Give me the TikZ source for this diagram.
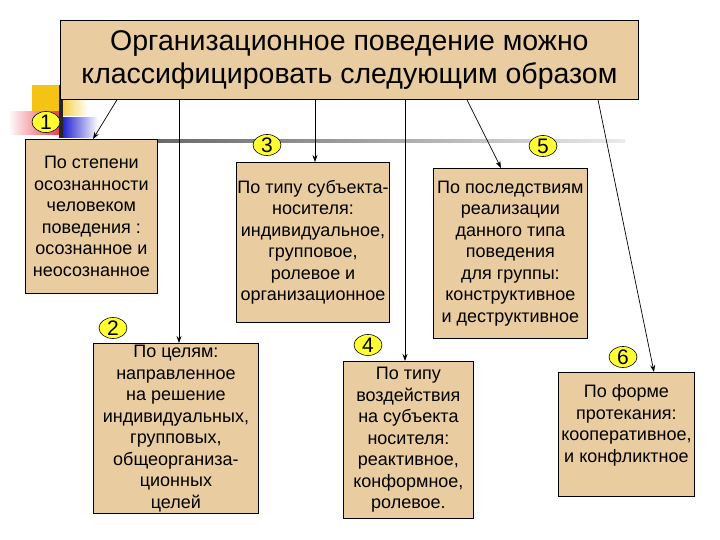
\documentclass[tikz,border=0pt]{standalone}
\usepackage{fontspec}
\setmainfont{Liberation Sans}
\usetikzlibrary{shapes.geometric,arrows.meta}
\definecolor{tan}{RGB}{233,205,160}
\definecolor{badgey}{RGB}{255,255,51}
\definecolor{goldy}{RGB}{245,195,20}
\definecolor{redg}{RGB}{235,60,75}
\definecolor{blueg}{RGB}{30,30,210}
\tikzset{
  box/.style={draw=black, line width=0.8pt, fill=tan, anchor=north west, align=center,
    inner sep=1pt, font=\fontsize{18}{21.5}\selectfont},
  badge/.style={draw=black, line width=0.6pt, fill=badgey, ellipse, inner sep=0pt,
    minimum width=28pt, minimum height=21pt, font=\fontsize{21}{21}\selectfont},
  arr/.style={draw=black, line width=0.7pt, -{Stealth[length=7pt,width=5pt]}},
}
\begin{document}
\begin{tikzpicture}[x=1pt,y=-1pt]
\useasboundingbox (0,0) rectangle (720,540);
\fill[white] (0,0) rectangle (720,540);
% decoration
\fill[goldy] (32,85) rectangle (60,113);
\shade[left color=white, right color=redg] (8,112) rectangle (60,135);
\shade[left color=goldy!80, right color=white] (62,100) rectangle (88,116);
\shade[left color=blueg, right color=white] (62,118) rectangle (98,138);
\fill[black!85] (59,85) rectangle (63,138);
\shade[left color=black!70, right color=black!8] (60,139.5) rectangle (625,142.5);
% title
\node[box, minimum width=578pt, minimum height=79pt, font=\fontsize{28.5}{33}\selectfont]
  (title) at (60,20) {Организационное поведение можно\\классифицировать следующим образом};
% boxes
\node[box, minimum width=132pt, minimum height=154pt] (b1) at (25,139)
  {По степени\\осознанности\\человеком\\поведения :\\осознанное и\\неосознанное};
\node[box, minimum width=165pt, minimum height=170pt] (b2) at (93,343)
  {По целям:\\направленное\\на решение\\индивидуальных,\\групповых,\\общеорганиза-\\ционных\\целей};
\node[box, minimum width=152pt, minimum height=160pt] (b3) at (236,162)
  {По типу субъекта-\\носителя:\\индивидуальное,\\групповое,\\ролевое и\\организационное};
\node[box, minimum width=130pt, minimum height=157pt] (b4) at (343,361)
  {По типу\\воздействия\\на субъекта\\носителя:\\реактивное,\\конформное,\\ролевое.};
\node[box, minimum width=154pt, minimum height=170pt] (b5) at (433,168)
  {По последствиям\\реализации\\данного типа\\поведения\\для группы:\\конструктивное\\и деструктивное};
\node[box, minimum width=136pt, minimum height=124pt] (b6) at (558,372)
  {По форме\\протекания:\\кооперативное,\\и конфликтное\\\mbox{}};
% badges
\node[badge] (n1) at (46,122) {1};
\node[badge] (n2) at (113,328) {2};
\node[badge] (n3) at (267,145) {3};
\node[badge] (n4) at (368,345) {4};
\node[badge] (n5) at (543,146) {5};
\node[badge] (n6) at (623,357) {6};
% connectors
\draw[arr] (117,0 |- title.south) -- (93,0 |- b1.north);
\draw[arr] (179,0 |- title.south) -- (179,0 |- b2.north);
\draw[arr] (315,0 |- title.south) -- (315,0 |- b3.north);
\draw[arr] (405,0 |- title.south) -- (405,0 |- b4.north);
\draw[arr] (467,0 |- title.south) -- (501,0 |- b5.north);
\draw[arr] (598,0 |- title.south) -- (654,0 |- b6.north);
\end{tikzpicture}
\end{document}
